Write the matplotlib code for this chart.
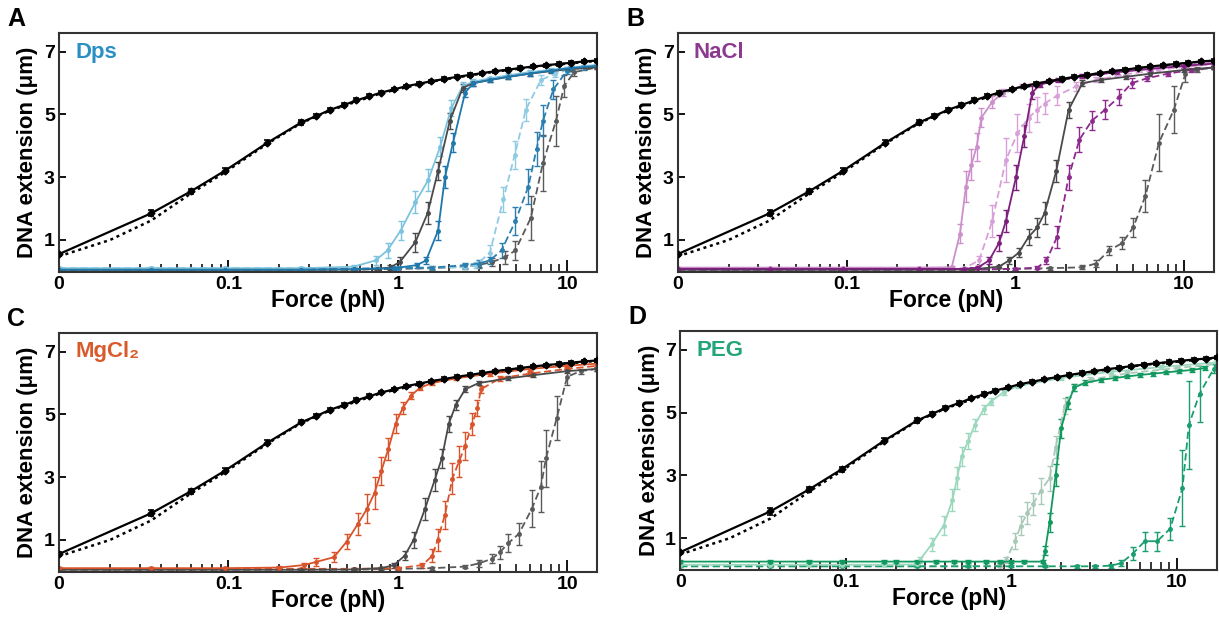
import matplotlib
matplotlib.use("Agg")
import matplotlib.pyplot as plt
from matplotlib.ticker import FixedLocator, LogLocator, NullFormatter

plt.rcParams['font.family'] = ['Liberation Sans', 'DejaVu Sans']
plt.rcParams['font.weight'] = 'bold'

# bare DNA, stretching (solid) and relaxing (dotted)
BARE_F = [0.01, 0.035, 0.06, 0.095, 0.17, 0.27, 0.33, 0.4, 0.48, 0.57, 0.68, 0.8, 0.95,
          1.12, 1.33, 1.58, 1.88, 2.24, 2.66, 3.16, 3.76, 4.47, 5.3, 6.3, 7.5, 8.9,
          10.6, 12.6, 15, 17.5]
BARE_Z = [0.55, 1.85, 2.55, 3.2, 4.1, 4.75, 4.95, 5.15, 5.3, 5.45, 5.58, 5.7, 5.8,
          5.9, 5.98, 6.06, 6.13, 6.2, 6.26, 6.32, 6.38, 6.43, 6.48, 6.53, 6.57, 6.61,
          6.65, 6.69, 6.72, 6.76]
BARE_E = [0.05, 0.1, 0.08, 0.08, 0.08, 0.07, 0.07, 0.07, 0.06, 0.06, 0.06, 0.06, 0.05,
          0.05, 0.05, 0.05, 0.05, 0.05, 0.05, 0.05, 0.05, 0.05, 0.05, 0.05, 0.05, 0.05,
          0.05, 0.05, 0.05, 0.05]
BARE_REL_F = [0.01, 0.02, 0.035, 0.06, 0.095, 0.17, 0.27, 0.4, 0.8, 1.58, 3.16, 6.3, 15, 17.5]
BARE_REL_Z = [0.48, 1.0, 1.62, 2.48, 3.15, 4.07, 4.73, 5.13, 5.68, 6.05, 6.31, 6.52, 6.71, 6.75]

# panel A: Dps
A_LIGHT_F = [0.01, 0.035, 0.095, 0.27, 0.55, 0.74, 0.87, 1.04, 1.27, 1.51, 1.78, 2.07, 2.42, 2.8, 3.5, 4.5, 6, 8, 10.5, 15]
A_LIGHT_Z = [0.1, 0.1, 0.1, 0.1, 0.15, 0.35, 0.67, 1.3, 2.2, 2.9, 3.97, 5.2, 5.9, 6.05, 6.15, 6.25, 6.35, 6.42, 6.5, 6.58]
A_LIGHT_E = [0.03, 0.03, 0.03, 0.03, 0.05, 0.15, 0.25, 0.3, 0.35, 0.35, 0.3, 0.25, 0.12, 0.08, 0.06, 0.06, 0.06, 0.06, 0.06, 0.06]
A_GRAY_F = [0.01, 0.035, 0.095, 0.27, 0.55, 0.75, 0.9, 1.03, 1.27, 1.5, 1.73, 2.03, 2.42, 2.8, 3.5, 4.5, 6, 8, 10.5, 15]
A_GRAY_Z = [0.05, 0.05, 0.05, 0.05, 0.06, 0.08, 0.12, 0.3, 0.93, 1.85, 3.2, 4.8, 5.85, 6.0, 6.1, 6.2, 6.3, 6.38, 6.45, 6.5]
A_GRAY_E = [0.03, 0.03, 0.03, 0.03, 0.03, 0.05, 0.08, 0.15, 0.3, 0.35, 0.3, 0.25, 0.12, 0.08, 0.06, 0.06, 0.06, 0.06, 0.06, 0.06]
A_DARK_F = [0.01, 0.035, 0.095, 0.27, 0.55, 0.95, 1.3, 1.47, 1.73, 1.9, 2.12, 2.5, 2.8, 3.5, 4.5, 6, 8, 10.5, 15]
A_DARK_Z = [0.05, 0.05, 0.05, 0.05, 0.07, 0.1, 0.2, 0.35, 1.3, 3.0, 4.1, 5.7, 6.0, 6.1, 6.2, 6.3, 6.4, 6.48, 6.55]
A_DARK_E = [0.03, 0.03, 0.03, 0.03, 0.03, 0.05, 0.08, 0.12, 0.3, 0.35, 0.3, 0.15, 0.08, 0.06, 0.06, 0.06, 0.06, 0.06, 0.06]
A_LDASH_F = [0.01, 0.035, 0.095, 0.27, 0.55, 1.0, 1.6, 2.5, 2.9, 3.5, 4.2, 4.9, 5.7, 7.0, 8.5, 10.5, 15]
A_LDASH_Z = [0.1, 0.1, 0.1, 0.1, 0.1, 0.12, 0.12, 0.13, 0.2, 0.6, 2.3, 3.7, 5.15, 6.1, 6.3, 6.45, 6.55]
A_LDASH_E = [0.03, 0.03, 0.03, 0.03, 0.03, 0.04, 0.05, 0.06, 0.1, 0.25, 0.4, 0.45, 0.35, 0.15, 0.1, 0.08, 0.06]
A_DDASH_F = [0.01, 0.035, 0.095, 0.27, 0.55, 1.0, 1.6, 2.5, 3.0, 3.5, 4.1, 4.95, 5.9, 6.6, 7.2, 8.3, 10, 12.5, 15]
A_DDASH_Z = [0.08, 0.08, 0.08, 0.08, 0.08, 0.1, 0.12, 0.2, 0.25, 0.35, 0.67, 1.6, 2.7, 3.9, 4.8, 5.8, 6.4, 6.5, 6.55]
A_DDASH_E = [0.03, 0.03, 0.03, 0.03, 0.03, 0.04, 0.05, 0.08, 0.1, 0.12, 0.25, 0.45, 0.55, 0.55, 0.5, 0.3, 0.12, 0.08, 0.06]
A_GDASH_F = [0.01, 0.035, 0.095, 0.27, 0.55, 1.0, 1.6, 2.5, 3.0, 3.6, 4.3, 4.95, 6.1, 7.2, 8.6, 9.6, 11, 15]
A_GDASH_Z = [0.05, 0.05, 0.05, 0.05, 0.05, 0.08, 0.1, 0.15, 0.2, 0.3, 0.45, 0.67, 1.7, 3.45, 4.8, 5.9, 6.35, 6.5]
A_GDASH_E = [0.03, 0.03, 0.03, 0.03, 0.03, 0.04, 0.05, 0.08, 0.1, 0.12, 0.2, 0.3, 0.7, 0.9, 0.8, 0.35, 0.12, 0.06]

# panel B: NaCl
B_LIGHT_F = [0.01, 0.035, 0.095, 0.27, 0.42, 0.47, 0.51, 0.55, 0.59, 0.63, 0.73, 0.85, 1.1, 1.6, 2.5, 4, 6.3, 10, 15]
B_LIGHT_Z = [0.12, 0.12, 0.12, 0.12, 0.13, 1.2, 2.7, 3.4, 3.97, 4.9, 5.4, 5.7, 5.92, 6.08, 6.22, 6.35, 6.48, 6.58, 6.65]
B_LIGHT_E = [0.03, 0.03, 0.03, 0.03, 0.05, 0.3, 0.5, 0.5, 0.45, 0.3, 0.2, 0.1, 0.06, 0.06, 0.06, 0.06, 0.06, 0.06, 0.06]
B_LDASH_F = [0.01, 0.035, 0.095, 0.27, 0.5, 0.61, 0.73, 0.88, 1.03, 1.2, 1.35, 1.49, 1.77, 2.3, 3, 4.5, 7, 10, 15]
B_LDASH_Z = [0.06, 0.06, 0.06, 0.06, 0.1, 0.35, 1.6, 3.55, 4.4, 4.9, 5.15, 5.35, 5.6, 5.9, 6.1, 6.28, 6.42, 6.52, 6.6]
B_LDASH_E = [0.03, 0.03, 0.03, 0.03, 0.05, 0.15, 0.5, 0.7, 0.6, 0.45, 0.4, 0.35, 0.3, 0.15, 0.08, 0.06, 0.06, 0.06, 0.06]
B_DARK_F = [0.01, 0.035, 0.095, 0.27, 0.5, 0.6, 0.7, 0.8, 0.88, 1.01, 1.13, 1.26, 1.4, 1.8, 2.5, 4, 6.3, 10, 15]
B_DARK_Z = [0.08, 0.08, 0.08, 0.08, 0.08, 0.12, 0.35, 0.9, 1.6, 3.0, 4.3, 5.7, 5.95, 6.1, 6.22, 6.35, 6.45, 6.55, 6.62]
B_DARK_E = [0.03, 0.03, 0.03, 0.03, 0.03, 0.05, 0.12, 0.25, 0.35, 0.4, 0.35, 0.2, 0.08, 0.06, 0.06, 0.06, 0.06, 0.06, 0.06]
B_GRAY_F = [0.01, 0.035, 0.095, 0.27, 0.55, 0.8, 0.92, 1.05, 1.2, 1.35, 1.49, 1.75, 2.07, 2.5, 3.2, 4.5, 6.3, 10, 15]
B_GRAY_Z = [0.05, 0.05, 0.05, 0.05, 0.06, 0.15, 0.35, 0.6, 1.1, 1.4, 1.85, 3.2, 5.15, 6.0, 6.1, 6.2, 6.3, 6.42, 6.5]
B_GRAY_E = [0.03, 0.03, 0.03, 0.03, 0.03, 0.05, 0.12, 0.15, 0.25, 0.3, 0.35, 0.35, 0.25, 0.1, 0.06, 0.06, 0.06, 0.06, 0.06]
B_DDASH_F = [0.01, 0.035, 0.095, 0.27, 0.55, 1.0, 1.35, 1.53, 1.77, 2.07, 2.4, 2.84, 3.4, 4.1, 4.9, 6, 8, 11, 15]
B_DDASH_Z = [0.06, 0.06, 0.06, 0.06, 0.06, 0.08, 0.12, 0.35, 1.1, 3.0, 4.2, 4.8, 5.15, 5.55, 6.0, 6.15, 6.3, 6.42, 6.5]
B_DDASH_E = [0.03, 0.03, 0.03, 0.03, 0.03, 0.04, 0.05, 0.12, 0.35, 0.4, 0.4, 0.3, 0.3, 0.25, 0.15, 0.08, 0.06, 0.06, 0.06]
B_GDASH_F = [0.01, 0.035, 0.095, 0.27, 0.55, 1.0, 1.6, 2.5, 3.0, 3.6, 4.3, 5.0, 5.9, 7.1, 8.7, 10.2, 12, 15]
B_GDASH_Z = [0.05, 0.05, 0.05, 0.05, 0.05, 0.08, 0.1, 0.13, 0.25, 0.67, 0.9, 1.4, 2.4, 4.1, 5.15, 6.3, 6.42, 6.5]
B_GDASH_E = [0.03, 0.03, 0.03, 0.03, 0.03, 0.04, 0.05, 0.06, 0.1, 0.15, 0.2, 0.3, 0.5, 0.9, 0.75, 0.25, 0.08, 0.06]

# panel C: MgCl2
C_SOL_F = [0.01, 0.035, 0.095, 0.2, 0.28, 0.33, 0.42, 0.5, 0.58, 0.66, 0.73, 0.8, 0.88, 0.97, 1.07, 1.2, 1.35, 1.6, 2.2, 3.5, 6, 10, 15]
C_SOL_Z = [0.1, 0.1, 0.1, 0.12, 0.2, 0.3, 0.45, 0.95, 1.5, 2.0, 2.5, 3.2, 3.9, 4.7, 5.2, 5.6, 5.85, 6.0, 6.15, 6.3, 6.45, 6.55, 6.62]
C_SOL_E = [0.03, 0.03, 0.03, 0.05, 0.08, 0.12, 0.15, 0.25, 0.35, 0.45, 0.5, 0.45, 0.35, 0.3, 0.2, 0.12, 0.08, 0.06, 0.06, 0.06, 0.06, 0.06, 0.06]
C_GRAY_F = [0.01, 0.035, 0.095, 0.27, 0.55, 0.8, 0.95, 1.1, 1.24, 1.45, 1.65, 1.82, 2.0, 2.2, 2.5, 3.0, 4.5, 6.3, 10, 15]
C_GRAY_Z = [0.05, 0.05, 0.05, 0.05, 0.06, 0.1, 0.2, 0.5, 1.0, 2.0, 2.9, 3.6, 4.7, 5.3, 5.8, 6.0, 6.15, 6.25, 6.38, 6.45]
C_GRAY_E = [0.03, 0.03, 0.03, 0.03, 0.03, 0.05, 0.08, 0.15, 0.25, 0.35, 0.35, 0.3, 0.25, 0.15, 0.1, 0.06, 0.06, 0.06, 0.06, 0.06]
C_DASH_F = [0.01, 0.035, 0.095, 0.27, 0.55, 1.0, 1.4, 1.6, 1.72, 1.9, 2.1, 2.3, 2.5, 2.75, 2.95, 3.1, 4, 6, 10, 15]
C_DASH_Z = [0.08, 0.08, 0.08, 0.08, 0.08, 0.1, 0.2, 0.5, 1.0, 1.8, 2.95, 3.5, 4.0, 4.7, 5.2, 5.8, 6.15, 6.3, 6.45, 6.55]
C_DASH_E = [0.03, 0.03, 0.03, 0.03, 0.03, 0.05, 0.08, 0.2, 0.35, 0.45, 0.5, 0.5, 0.45, 0.35, 0.25, 0.12, 0.08, 0.06, 0.06, 0.06]
C_GDASH_F = [0.01, 0.035, 0.095, 0.27, 0.55, 1.0, 1.6, 2.5, 3.0, 3.6, 4.0, 4.5, 5.2, 6.2, 7.0, 7.5, 8.7, 10, 12, 15]
C_GDASH_Z = [0.05, 0.05, 0.05, 0.05, 0.05, 0.08, 0.1, 0.15, 0.25, 0.4, 0.6, 0.9, 1.2, 2.0, 2.7, 3.6, 4.9, 6.2, 6.38, 6.45]
C_GDASH_E = [0.03, 0.03, 0.03, 0.03, 0.03, 0.04, 0.05, 0.06, 0.1, 0.15, 0.2, 0.3, 0.35, 0.6, 0.8, 0.9, 0.7, 0.25, 0.08, 0.06]

# panel D: PEG
D_LIGHT_F = [0.01, 0.035, 0.06, 0.095, 0.17, 0.27, 0.28, 0.33, 0.39, 0.44, 0.47, 0.5, 0.55, 0.6, 0.68, 0.75, 0.9, 1.1, 2, 4, 8, 17.5]
D_LIGHT_Z = [0.15, 0.15, 0.15, 0.15, 0.15, 0.16, 0.3, 0.8, 1.4, 2.2, 2.9, 3.6, 4.1, 4.6, 5.1, 5.35, 5.65, 5.85, 6.1, 6.3, 6.45, 6.6]
D_LIGHT_E = [0.03, 0.03, 0.03, 0.03, 0.03, 0.04, 0.1, 0.2, 0.3, 0.35, 0.35, 0.3, 0.25, 0.2, 0.15, 0.1, 0.08, 0.06, 0.06, 0.06, 0.06, 0.06]
D_LDASH_F = [0.01, 0.035, 0.095, 0.27, 0.55, 0.85, 0.93, 1.05, 1.14, 1.25, 1.36, 1.5, 1.7, 1.85, 2.1, 2.4, 3, 5, 10, 17.5]
D_LDASH_Z = [0.1, 0.1, 0.1, 0.1, 0.1, 0.12, 0.3, 0.9, 1.4, 1.8, 2.1, 2.5, 2.9, 3.9, 5.2, 5.8, 6.05, 6.25, 6.42, 6.55]
D_LDASH_E = [0.03, 0.03, 0.03, 0.03, 0.03, 0.05, 0.1, 0.25, 0.3, 0.35, 0.35, 0.4, 0.4, 0.35, 0.25, 0.12, 0.08, 0.06, 0.06, 0.06]
D_DARK_F = [0.01, 0.035, 0.06, 0.095, 0.17, 0.2, 0.27, 0.35, 0.45, 0.55, 0.7, 0.85, 1.0, 1.2, 1.55, 1.6, 1.7, 1.85, 2.0, 2.2, 2.4, 2.8, 3.5, 4.2, 5, 6, 7.2, 8.6, 10.3, 12.4, 14.8]
D_DARK_Z = [0.25, 0.25, 0.25, 0.25, 0.25, 0.25, 0.25, 0.25, 0.25, 0.25, 0.25, 0.25, 0.25, 0.25, 0.25, 0.6, 1.5, 3.0, 4.5, 5.3, 5.8, 5.95, 6.05, 6.1, 6.15, 6.2, 6.24, 6.28, 6.32, 6.36, 6.42]
D_DARK_E = [0.05, 0.05, 0.05, 0.05, 0.05, 0.05, 0.05, 0.05, 0.05, 0.05, 0.05, 0.05, 0.05, 0.05, 0.05, 0.15, 0.3, 0.35, 0.3, 0.2, 0.1, 0.08, 0.06, 0.06, 0.06, 0.06, 0.06, 0.06, 0.06, 0.06, 0.06]
D_DDASH_F = [0.01, 0.035, 0.095, 0.27, 0.55, 1.0, 1.6, 2.5, 3.2, 4.0, 4.6, 5.4, 6.4, 7.6, 9.1, 10.8, 11.8, 13.7, 16.7, 17.5]
D_DDASH_Z = [0.1, 0.1, 0.1, 0.1, 0.1, 0.1, 0.1, 0.1, 0.1, 0.12, 0.2, 0.5, 0.9, 0.9, 1.3, 2.6, 4.6, 5.6, 6.4, 6.55]
D_DDASH_E = [0.03, 0.03, 0.03, 0.03, 0.03, 0.03, 0.03, 0.04, 0.05, 0.06, 0.1, 0.2, 0.3, 0.3, 0.35, 1.2, 1.4, 0.9, 0.15, 0.06]

GRAY = '#4a4a4a'


def curve(ax, f, z, e, color, dashed=False, lw=1.3):
    ls = (0, (4, 2)) if dashed else '-'
    ax.errorbar(f, z, yerr=e, color=color, ls=ls, lw=lw, marker='o', ms=2.5,
                elinewidth=1.0, capsize=2, capthick=1.0)


def bare(ax):
    ax.plot(BARE_REL_F, BARE_REL_Z, color='black', ls=(0, (1.2, 1.5)), lw=1.8)
    ax.errorbar(BARE_F, BARE_Z, yerr=BARE_E, color='black', lw=1.6, marker='D', ms=3.5,
                elinewidth=1.2, capsize=2.5, capthick=1.2, zorder=5)


def style(ax, xmax, title, tcolor, letter):
    ax.set_xscale('log')
    ax.set_xlim(0.01, xmax)
    ax.set_ylim(-0.02, 7.6)
    ax.xaxis.set_major_locator(FixedLocator([0.01, 0.1, 1, 10]))
    ax.set_xticklabels(['0', '0.1', '1', '10'])
    ax.xaxis.set_minor_locator(LogLocator(base=10, subs=(2, 3, 4, 5, 6, 7, 8, 9), numticks=20))
    ax.xaxis.set_minor_formatter(NullFormatter())
    ax.set_yticks([1, 3, 5, 7])
    ax.tick_params(axis='both', which='major', direction='in', length=9, width=1.3,
                   labelsize=14, pad=3)
    ax.tick_params(axis='x', which='minor', direction='in', length=6, width=1.1)
    ax.tick_params(axis='y', which='major', length=5)
    for lab in ax.get_xticklabels() + ax.get_yticklabels():
        lab.set_fontweight('bold')
    for sp in ax.spines.values():
        sp.set_linewidth(1.5)
        sp.set_color('#333333')
    ax.set_xlabel('Force (pN)', fontsize=16.5, fontweight='bold', labelpad=-3)
    ax.set_ylabel('DNA extension (μm)', fontsize=16, fontweight='bold', labelpad=4)
    ax.text(0.03, 0.92, title, transform=ax.transAxes, color=tcolor, fontsize=16,
            fontweight='bold', va='center', ha='left')
    ax.text(-0.08, 1.06, letter, transform=ax.transAxes, fontsize=18,
            fontweight='bold', va='center', ha='center')


fig = plt.figure(figsize=(12.19, 6.21), dpi=100)
axA = fig.add_axes([0.0484, 0.562, 0.4413, 0.385])
axB = fig.add_axes([0.556, 0.562, 0.4397, 0.385])
axC = fig.add_axes([0.0484, 0.079, 0.4413, 0.385])
axD = fig.add_axes([0.558, 0.082, 0.4405, 0.385])

# A
curve(axA, A_GDASH_F, A_GDASH_Z, A_GDASH_E, '#5a5a5a', dashed=True)
curve(axA, A_LDASH_F, A_LDASH_Z, A_LDASH_E, '#8fcbe3', dashed=True)
curve(axA, A_DDASH_F, A_DDASH_Z, A_DDASH_E, '#2a7fb0', dashed=True)
curve(axA, A_LIGHT_F, A_LIGHT_Z, A_LIGHT_E, '#7cc3df')
curve(axA, A_GRAY_F, A_GRAY_Z, A_GRAY_E, GRAY)
curve(axA, A_DARK_F, A_DARK_Z, A_DARK_E, '#1f78ac')
bare(axA)
style(axA, 15, 'Dps', '#2b8fc4', 'A')

# B
curve(axB, B_GDASH_F, B_GDASH_Z, B_GDASH_E, '#5a5a5a', dashed=True)
curve(axB, B_LDASH_F, B_LDASH_Z, B_LDASH_E, '#d8a0d8', dashed=True)
curve(axB, B_DDASH_F, B_DDASH_Z, B_DDASH_E, '#8e2a8e', dashed=True)
curve(axB, B_LIGHT_F, B_LIGHT_Z, B_LIGHT_E, '#cc8fcc')
curve(axB, B_GRAY_F, B_GRAY_Z, B_GRAY_E, GRAY)
curve(axB, B_DARK_F, B_DARK_Z, B_DARK_E, '#7d1f7d')
bare(axB)
style(axB, 15, 'NaCl', '#8b3a8f', 'B')

# C
curve(axC, C_GDASH_F, C_GDASH_Z, C_GDASH_E, '#5a5a5a', dashed=True)
curve(axC, C_DASH_F, C_DASH_Z, C_DASH_E, '#d9542b', dashed=True)
curve(axC, C_GRAY_F, C_GRAY_Z, C_GRAY_E, GRAY)
curve(axC, C_SOL_F, C_SOL_Z, C_SOL_E, '#d9542b')
bare(axC)
style(axC, 15, 'MgCl₂', '#d95a2b', 'C')

# D
curve(axD, D_LDASH_F, D_LDASH_Z, D_LDASH_E, '#a9c9b8', dashed=True)
curve(axD, D_DDASH_F, D_DDASH_Z, D_DDASH_E, '#1a9e6e', dashed=True)
curve(axD, D_LIGHT_F, D_LIGHT_Z, D_LIGHT_E, '#9bd8bd')
curve(axD, D_DARK_F, D_DARK_Z, D_DARK_E, '#12995f')
bare(axD)
style(axD, 17.5, 'PEG', '#23a57c', 'D')

fig.savefig('out.png', dpi=100)
